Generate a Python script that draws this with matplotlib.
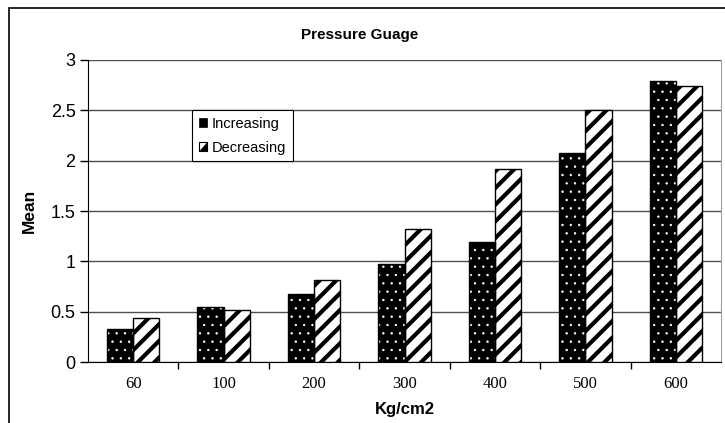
import matplotlib
matplotlib.use('Agg')
import matplotlib.pyplot as plt
from matplotlib.patches import Rectangle, Polygon
from matplotlib.legend_handler import HandlerPatch
import numpy as np

categories = ['60', '100', '200', '300', '400', '500', '600']
increasing = [0.33, 0.55, 0.68, 0.97, 1.19, 2.08, 2.79]
decreasing = [0.44, 0.52, 0.81, 1.32, 1.92, 2.50, 2.74]
yticks = [0, 0.5, 1, 1.5, 2, 2.5, 3]
ytick_labels = ['0', '0.5', '1', '1.5', '2', '2.5', '3']

plt.rcParams['font.family'] = ['Liberation Sans', 'DejaVu Sans']

fig = plt.figure(figsize=(7.25, 4.23), dpi=100)
ax = fig.add_axes([88/725, 1-362/423, (721-88)/725, (362-60)/423])

x = np.arange(len(categories))
w = 0.29

def hatch_lw(bars, lw):
    for b in bars:
        if hasattr(b, 'set_hatch_linewidth'):
            b.set_hatch_linewidth(lw)

# increasing: black with small white dots
plt.rcParams['hatch.linewidth'] = 0.5
b1 = ax.bar(x - w/2, increasing, w, color='black', edgecolor='white', hatch='..', linewidth=0, zorder=3)
hatch_lw(b1, 0.5)
ax.bar(x - w/2, increasing, w, facecolor='none', edgecolor='black', linewidth=1, zorder=4)

# decreasing: white with thick black diagonals
plt.rcParams['hatch.linewidth'] = 3.0
b2 = ax.bar(x + w/2, decreasing, w, color='white', edgecolor='black', hatch='//', linewidth=1, zorder=3)
hatch_lw(b2, 3.0)

ax.set_xlim(-0.5, len(categories) - 0.5)
ax.set_ylim(0, 3)
ax.set_yticks(yticks)
ax.set_yticklabels(ytick_labels, fontsize=13)
ax.set_xticks(x)
ax.set_xticklabels(categories, fontsize=12, family=['Liberation Serif', 'DejaVu Serif'])
ax.set_xticks(np.arange(0.5, len(categories) - 1, 1), minor=True)
ax.tick_params(axis='x', which='major', length=0, pad=10)
ax.tick_params(axis='x', which='minor', length=5, direction='out', width=1)
ax.tick_params(axis='y', length=6, direction='out', width=1, pad=3)

ax.yaxis.grid(True, color='#505050', linewidth=1)
ax.set_axisbelow(True)
ax.spines['top'].set_visible(False)
ax.spines['right'].set_color('#a0a0a0')
ax.spines['left'].set_color('black')
ax.spines['bottom'].set_color('black')

fig.text(360/725, 1 - 35/423, 'Pressure Guage', fontsize=11, fontweight='bold',
         ha='center', va='center')
ax.set_xlabel('Kg/cm2', fontsize=12, fontweight='bold', labelpad=7)
ax.set_ylabel('Mean', fontsize=12.5, fontweight='bold', labelpad=10)

# legend handles: small black square, and white square with black lower-right half
def triangle(legend, orig_handle, xdescent, ydescent, width, height, fontsize):
    x0, y0 = -xdescent, -ydescent
    return Polygon([[x0, y0], [x0 + width, y0], [x0 + width, y0 + height]], closed=True)

h1 = Rectangle((0, 0), 1, 1, facecolor='black', edgecolor='black', linewidth=0.5)
h2 = (Rectangle((0, 0), 1, 1, facecolor='white', edgecolor='black', linewidth=0.8),
      Polygon([[0, 0], [1, 0], [1, 1]], facecolor='black', edgecolor='black', linewidth=0.5))
leg = ax.legend([h1, h2], ['Increasing', 'Decreasing'], loc='upper left',
                bbox_to_anchor=((192-88)/633, (362-110)/302), fontsize=10.5,
                handlelength=0.55, handleheight=0.55, handletextpad=0.35,
                borderpad=0.45, labelspacing=0.7, frameon=True, fancybox=False,
                framealpha=1, edgecolor='black', borderaxespad=0,
                handler_map={Polygon: HandlerPatch(patch_func=triangle)})
leg.get_frame().set_linewidth(0.8)
leg.set_zorder(10)

# outer chart frame
fig.patches.append(Rectangle((9/725, -0.1), 2, 1 - 8/423 + 0.1, fill=False,
                             edgecolor='black', linewidth=1.2, transform=fig.transFigure))

fig.savefig('out.png', dpi=100)
